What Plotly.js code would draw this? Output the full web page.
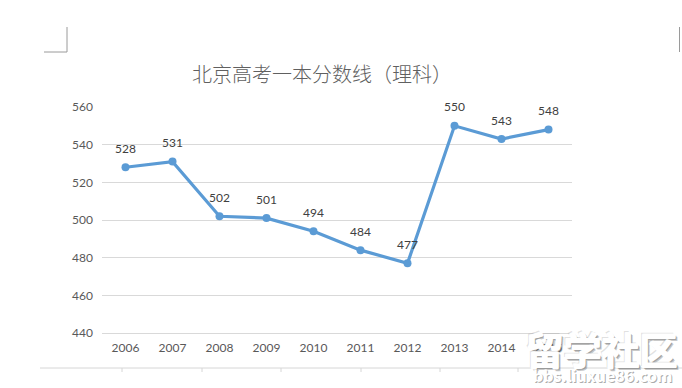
<!DOCTYPE html>
<html>
<head>
<meta charset="utf-8">
<script src="https://cdn.plot.ly/plotly-3.0.1.min.js"></script>
<style>html,body{margin:0;padding:0;background:#fff;}#chart{width:682px;height:388px;}</style>
</head>
<body>
<div id="chart"></div>
<script>
const years = ['2006','2007','2008','2009','2010','2011','2012','2013','2014','2015'];
const scores = [528, 531, 502, 501, 494, 484, 477, 550, 543, 548];
const yTicks = [440, 460, 480, 500, 520, 540, 560];
const titleText = '北京高考一本分数线（理科）';
const watermarkMain = '留学社区';
const watermarkSub = 'bbs.liuxue86.com';

// plot area in pixels
const L = 102, R = 572, T = 107, B = 333;
function px(x){return (x - L) / (R - L);}
function py(y){return (B - y) / (B - T);}

const labelFont = {family: 'Lato, "Open Sans", sans-serif', size: 12, color: '#404040'};

const annotations = scores.map((v, i) => ({
  x: i, y: v, xref: 'x', yref: 'y',
  text: String(v), showarrow: false,
  yshift: 19, font: labelFont
}));

// watermark: grey shadow layers, then thickened white text
const wmLayers = [];
[[3,3,'rgba(100,100,100,0.35)'],[2,2,'rgba(100,100,100,0.4)'],[-1,-1,'rgba(150,150,150,0.3)']].forEach(s =>
  wmLayers.push({text: watermarkMain, size: 38, x: 601, y: 347, color: s[2], dx: s[0], dy: s[1]}));
[[0,0],[1,0],[0,1],[1,1]].forEach(o =>
  wmLayers.push({text: watermarkMain, size: 38, x: 601, y: 347, color: '#ffffff', dx: o[0], dy: o[1]}));
wmLayers.push({text: watermarkSub, size: 16, x: 603, y: 375, color: 'rgba(100,100,100,0.55)', dx: 1, dy: 1});
wmLayers.push({text: watermarkSub, size: 16, x: 603, y: 375, color: '#ffffff', dx: 0, dy: 0});
wmLayers.forEach(w => annotations.push({
  xref: 'paper', yref: 'paper',
  x: px(w.x + w.dx), y: py(w.y + w.dy),
  text: w.text, showarrow: false, xanchor: 'center', yanchor: 'middle',
  font: {family: '"Noto Sans CJK SC", "DejaVu Sans", sans-serif', size: w.size, color: w.color, weight: 700}
}));

const data = [{
  x: years, y: scores, type: 'scatter', mode: 'lines+markers',
  line: {color: '#5B9BD5', width: 3.2},
  marker: {color: '#5B9BD5', size: 8},
  hoverinfo: 'none', cliponaxis: false
}];

// document margin marks and table border
const lineStyle = {color: '#9a9a9a', width: 1};
const shapes = [
  {type: 'line', xref: 'paper', yref: 'paper', x0: px(67), y0: py(27), x1: px(67), y1: py(52), line: lineStyle},
  {type: 'line', xref: 'paper', yref: 'paper', x0: px(44), y0: py(52), x1: px(67), y1: py(52), line: lineStyle},
  {type: 'line', xref: 'paper', yref: 'paper', x0: px(679.5), y0: py(27), x1: px(679.5), y1: py(52), line: lineStyle},
  {type: 'line', xref: 'paper', yref: 'paper', x0: px(40), y0: py(368), x1: px(682), y1: py(368), line: {color: '#d6d6d6', width: 1}}
];
[122, 202, 281, 361, 440, 518].forEach(x => shapes.push(
  {type: 'line', xref: 'paper', yref: 'paper', x0: px(x), y0: py(368), x1: px(x), y1: py(372), line: {color: '#d6d6d6', width: 1}}
));

const layout = {
  width: 682, height: 388,
  margin: {l: L, r: 682 - R, t: T, b: 388 - B},
  paper_bgcolor: '#ffffff', plot_bgcolor: '#ffffff',
  title: {
    text: titleText, x: 322 / 682, xanchor: 'center', y: 1 - 75 / 388, yanchor: 'middle',
    font: {family: '"Noto Sans CJK SC", sans-serif', size: 20, color: '#606060', weight: 300}
  },
  xaxis: {
    type: 'category', range: [-0.5, 9.5], fixedrange: true,
    showgrid: false, showline: true, linecolor: '#D9D9D9', linewidth: 1,
    ticks: '', tickfont: {family: 'Lato, "Open Sans", sans-serif', size: 12, color: '#595959'},
    ticklabelstandoff: 4, zeroline: false
  },
  yaxis: {
    range: [440, 560], tickvals: yTicks, ticktext: yTicks.map(String), fixedrange: true,
    showgrid: true, gridcolor: '#D9D9D9', gridwidth: 1, showline: false, zeroline: false,
    ticks: '', tickfont: {family: 'Lato, "Open Sans", sans-serif', size: 12, color: '#595959'},
    ticklabelstandoff: 8
  },
  showlegend: false,
  annotations: annotations,
  shapes: shapes
};

Plotly.newPlot('chart', data, layout, {displayModeBar: false, staticPlot: true});
</script>
</body>
</html>
